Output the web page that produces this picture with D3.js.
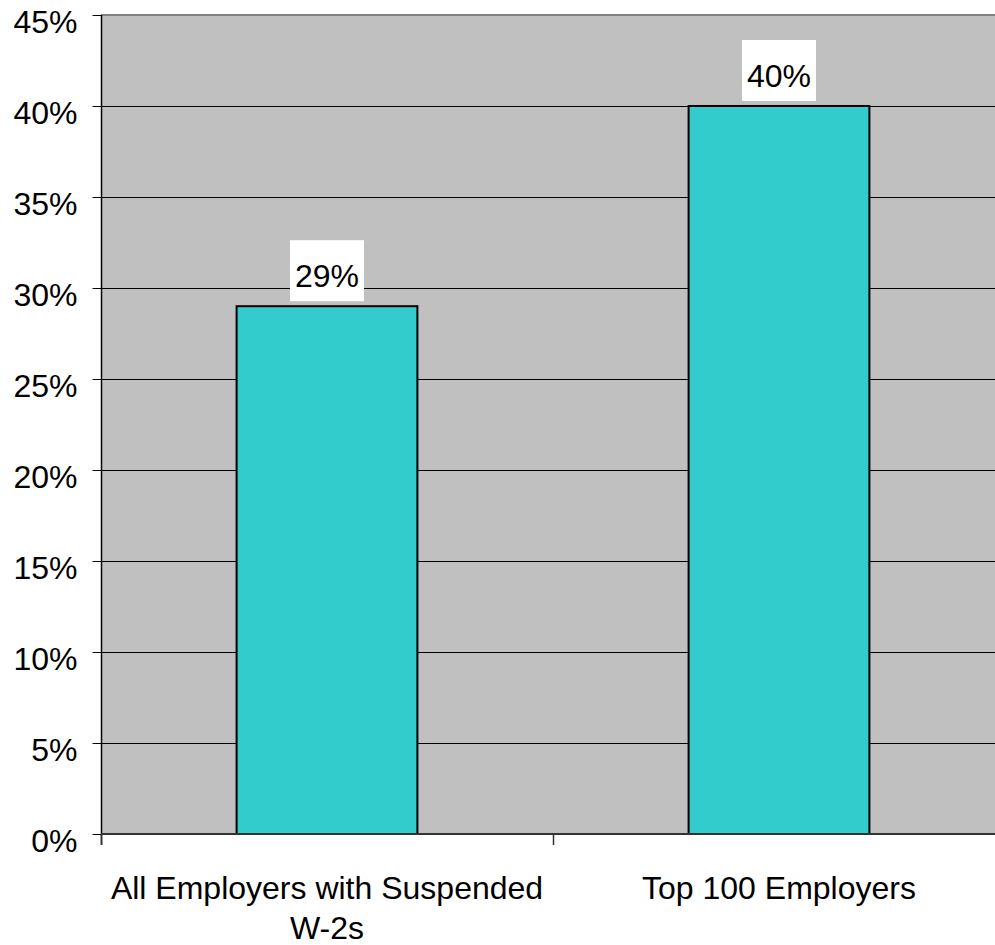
<!DOCTYPE html>
<html>
<head>
<meta charset="utf-8">
<script src="https://cdn.jsdelivr.net/npm/d3@7/dist/d3.min.js"></script>
<style>
  html, body { margin: 0; padding: 0; background: #ffffff; }
  svg { display: block; }
  text { font-family: "Liberation Sans", Arial, sans-serif; fill: #000; }
</style>
</head>
<body>
<svg id="chart" width="995" height="945"></svg>
<script>
// Share of employers, by group
const categories = ["All Employers with Suspended W-2s", "Top 100 Employers"];
const categoryLines = [["All Employers with Suspended", "W-2s"], ["Top 100 Employers"]];
const values = [29, 40];
const tickValues = [0, 5, 10, 15, 20, 25, 30, 35, 40, 45];

const svg = d3.select("#chart");
const plotLeft = 101, plotRight = 1005, plotTop = 15, plotBottom = 834;
const fontSize = 32;

const x = d3.scaleBand()
  .domain(categories)
  .range([plotLeft, plotRight])
  .paddingInner(0.6)
  .paddingOuter(0.3);

const y = d3.scaleLinear().domain([0, 45]).range([plotBottom, plotTop]);

// plot background
svg.append("rect")
  .attr("x", plotLeft).attr("y", plotTop)
  .attr("width", plotRight - plotLeft).attr("height", plotBottom - plotTop)
  .attr("fill", "#c0c0c0");

// horizontal gridlines
svg.append("g")
  .selectAll("line")
  .data(tickValues.filter(t => t > 0 && t < 45))
  .join("line")
  .attr("x1", plotLeft).attr("x2", plotRight)
  .attr("y1", d => Math.round(y(d)) + 0.5)
  .attr("y2", d => Math.round(y(d)) + 0.5)
  .attr("stroke", "#000").attr("stroke-width", 1);

// top border
svg.append("line")
  .attr("x1", plotLeft).attr("x2", plotRight)
  .attr("y1", y(45)).attr("y2", y(45))
  .attr("stroke", "#808080").attr("stroke-width", 2);

// bars
svg.append("g")
  .selectAll("rect")
  .data(values)
  .join("rect")
  .attr("x", (d, i) => x(categories[i]))
  .attr("y", d => y(d))
  .attr("width", x.bandwidth())
  .attr("height", d => plotBottom - y(d))
  .attr("fill", "#33cccc")
  .attr("stroke", "#000")
  .attr("stroke-width", 2);

// y axis
const yAxis = d3.axisLeft(y)
  .tickValues(tickValues)
  .tickSize(9)
  .tickPadding(15)
  .tickFormat(d => d + "%");
const ya = svg.append("g")
  .attr("transform", `translate(${plotLeft + 0.5},0)`)
  .call(yAxis);
ya.select(".domain").remove();
ya.selectAll(".tick line").attr("stroke", "#000");
ya.selectAll(".tick text")
  .attr("font-size", fontSize)
  .attr("font-family", "Liberation Sans, Arial, sans-serif")
  .attr("dy", null)
  .attr("y", 17)
  .attr("fill", "#000");
svg.append("line")
  .attr("x1", plotLeft + 0.5).attr("x2", plotLeft + 0.5)
  .attr("y1", plotTop).attr("y2", plotBottom + 11)
  .attr("stroke", "#000").attr("stroke-width", 1.5);

// x axis line and category boundary ticks
svg.append("line")
  .attr("x1", plotLeft).attr("x2", plotRight)
  .attr("y1", plotBottom).attr("y2", plotBottom)
  .attr("stroke", "#333").attr("stroke-width", 2);
const boundaries = categories.map(c => x(c) - x.step() * x.paddingOuter()).concat([plotRight]);
svg.append("g")
  .selectAll("line")
  .data(boundaries)
  .join("line")
  .attr("x1", d => d + 0.5).attr("x2", d => d + 0.5)
  .attr("y1", plotBottom).attr("y2", plotBottom + 11)
  .attr("stroke", "#333").attr("stroke-width", 1.5);

// category labels
const xl = svg.append("g");
categories.forEach((c, i) => {
  const cx = x(c) + x.bandwidth() / 2;
  const t = xl.append("text")
    .attr("text-anchor", "middle")
    .attr("font-size", fontSize)
    .attr("x", cx)
    .attr("y", 899);
  categoryLines[i].forEach((line, j) => {
    t.append("tspan")
      .attr("x", cx)
      .attr("dy", j === 0 ? 0 : 40)
      .text(line);
  });
});

// value labels in white boxes
const labels = svg.append("g");
values.forEach((v, i) => {
  const cx = x(categories[i]) + x.bandwidth() / 2;
  const boxBottom = y(v) - 5;
  const g = labels.append("g");
  const box = g.append("rect").attr("fill", "#fff");
  const t = g.append("text")
    .attr("text-anchor", "middle")
    .attr("font-size", fontSize)
    .attr("x", cx)
    .attr("y", boxBottom - 14)
    .text(v + "%");
  const w = t.node().getComputedTextLength() + 10;
  box.attr("x", cx - w / 2).attr("y", boxBottom - 61)
    .attr("width", w).attr("height", 61);
});
</script>
</body>
</html>
